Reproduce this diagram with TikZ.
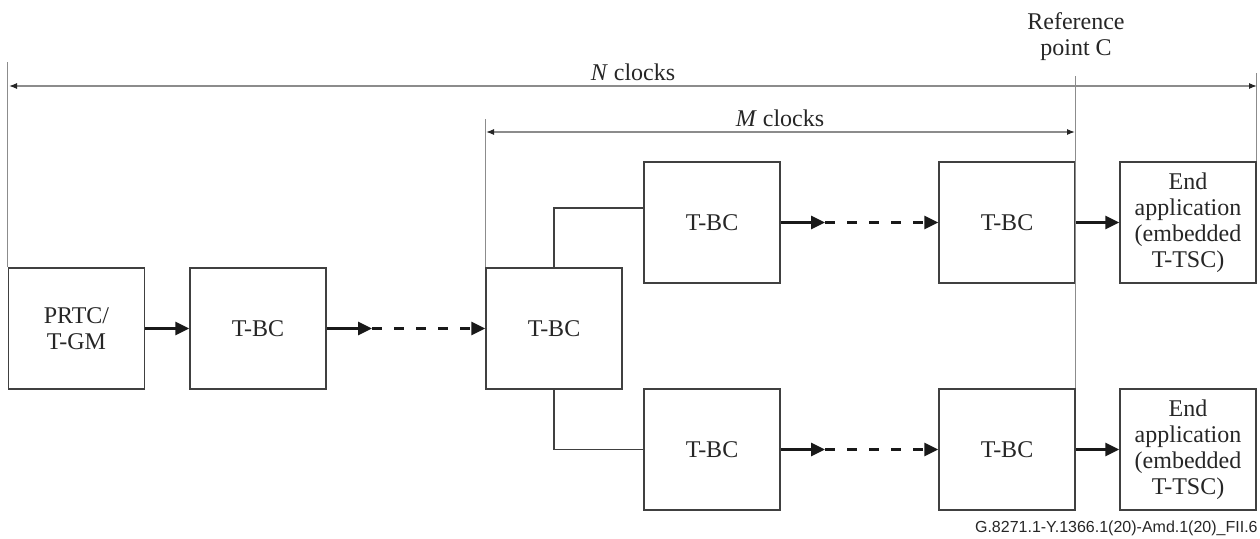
\documentclass[tikz,border=0pt]{standalone}
\usepackage{fontspec}
\setmainfont{Liberation Serif}
\newfontfamily\idfont{Liberation Sans}
\usetikzlibrary{arrows.meta}

\tikzset{
  blk/.style={draw=black!75, line width=0.75pt, minimum width=68pt, minimum height=60.5pt,
    inner sep=1pt, align=center, text=black!85, font=\fontsize{12}{13}\selectfont},
  flow/.style={draw=black!90, line width=1.5pt, -{Triangle[length=7pt,width=6.5pt]}},
  gap/.style={dash pattern=on 5pt off 6pt},
  conn/.style={draw=black!75, line width=0.75pt},
  dim/.style={draw=black!45, line width=0.6pt},
  dimarr/.style={dim, {Latex[length=4pt,width=3pt,black!85]}-{Latex[length=4pt,width=3pt,black!85]}},
  lbl/.style={text=black!85, font=\fontsize{12}{13}\selectfont, inner sep=0pt},
}

\begin{document}
\begin{tikzpicture}[x=0.5pt,y=-0.5pt]
      \useasboundingbox (0,0) rectangle (1260,538);

      % clocks
      \node[blk] (p) at (76.5,328.5) {PRTC/\\T-GM};
      \node[blk] (b1) at (258,328.5) {T-BC};
      \node[blk] (b2) at (554,328.5) {T-BC};
      \node[blk] (u1) at (712,222.5) {T-BC};
      \node[blk] (u2) at (1007,222.5) {T-BC};
      \node[blk] (ue) at (1188,222.5) {End\\application\\(embedded\\T-TSC)};
      \node[blk] (l1) at (712,449.5) {T-BC};
      \node[blk] (l2) at (1007,449.5) {T-BC};
      \node[blk] (le) at (1188,449.5) {End\\application\\(embedded\\T-TSC)};

      \coordinate (m1) at (372,328.5);
      \coordinate (m2) at (825,222.5);
      \coordinate (m3) at (825,449.5);

      % labels
      \node[lbl,anchor=base] (nc) at (633,80) {\textit{N} clocks};
      \node[lbl,anchor=base] (mc) at (780,126) {\textit{M} clocks};
      \node[lbl,align=center] (rc) at (1076,37) {Reference\\point C};
      \node[anchor=base east,inner sep=0pt,text=black!85,font=\idfont\fontsize{8}{9}\selectfont] (id) at (1258,532) {G.8271.1-Y.1366.1(20)-Amd.1(20)\_FII.6};

      % dimension lines
      \coordinate (nl) at (9,86);
      \coordinate (nr) at (1257,86);
      \coordinate (ml) at (486,132);
      \coordinate (mr) at (1075,132);
      \draw[dim] (p.north west) -- ++(0,-205);
      \draw[dim] (ue.north east) -- ++(0,-88);
      \draw[dim] (b2.north west) -- ++(0,-148);
      \draw[dim] (l2.north east) -- ++(0,-312);
      \draw[dimarr] (nl) -- (nr);
      \draw[dimarr] (ml) -- (mr);

      % flows
      \draw[flow] (p) -- (b1);
      \draw[flow] (b1) -- (m1);
      \draw[flow,gap] (m1) -- (b2);
      \draw[conn] (b2.north) |- ([yshift=7.25pt]u1.west);
      \draw[conn] (b2.south) |- (l1.west);
      \draw[flow] (u1) -- (m2);
      \draw[flow,gap] (m2) -- (u2);
      \draw[flow] (l1) -- (m3);
      \draw[flow,gap] (m3) -- (l2);
      \draw[flow] (u2) -- (ue);
      \draw[flow] (l2) -- (le);
\end{tikzpicture}
\end{document}
